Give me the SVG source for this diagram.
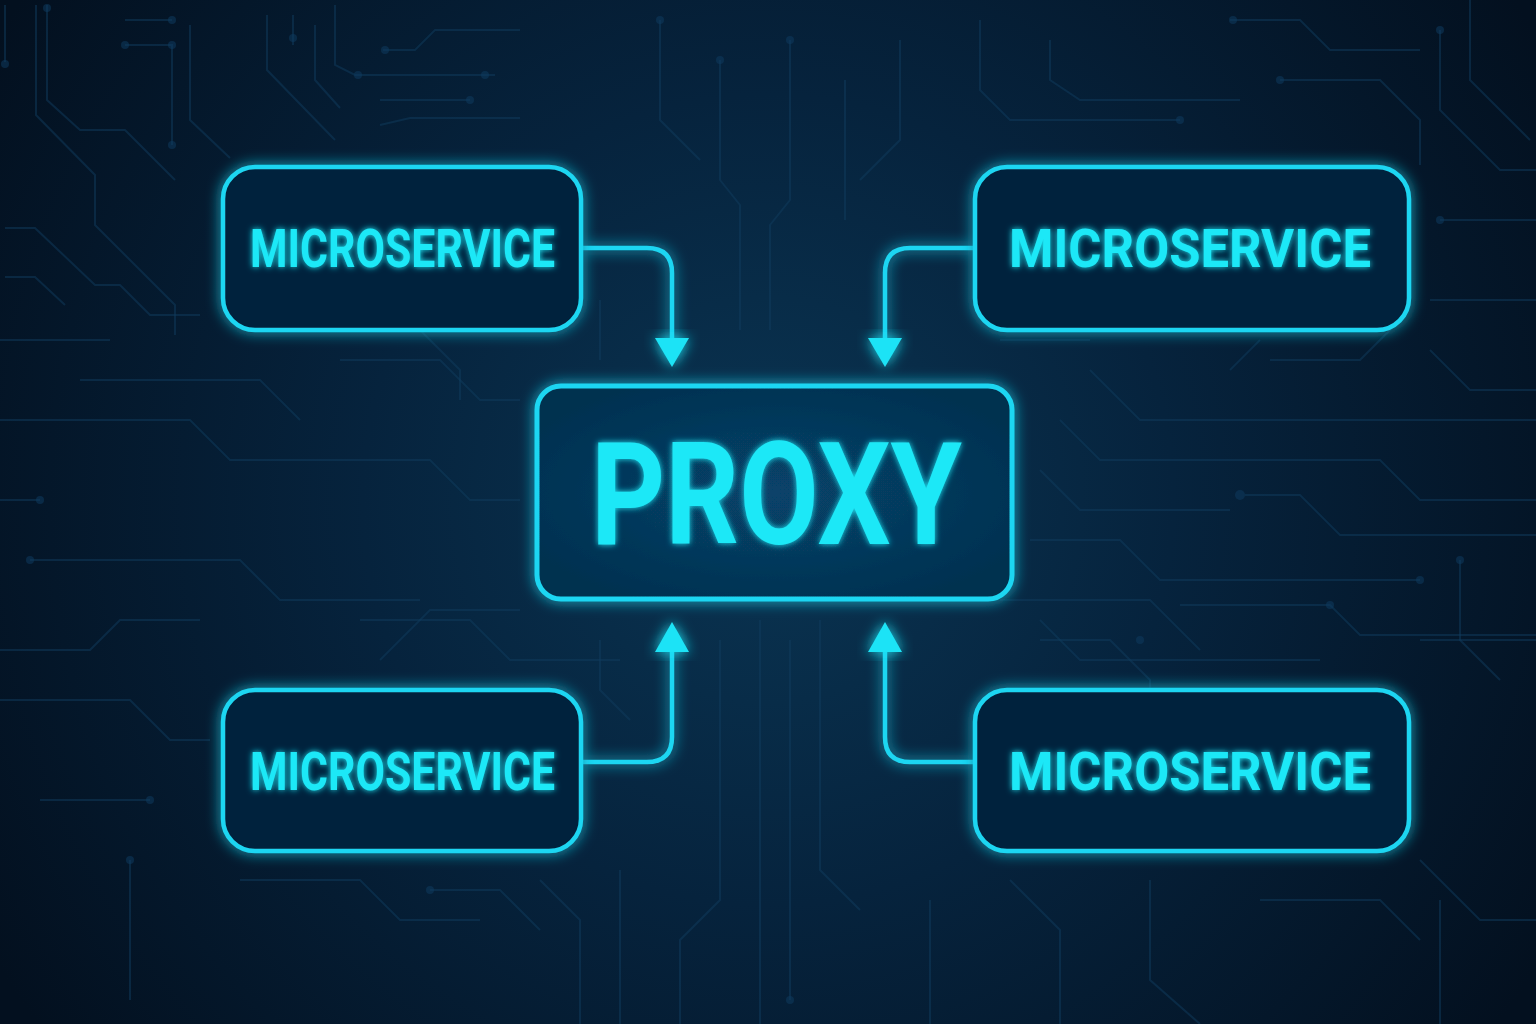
<svg xmlns="http://www.w3.org/2000/svg" width="1536" height="1024" viewBox="0 0 1536 1024">
<defs>
<radialGradient id="bg" cx="768" cy="500" r="900" gradientUnits="userSpaceOnUse">
<stop offset="0" stop-color="#0a3553"/>
<stop offset="0.45" stop-color="#06233d"/>
<stop offset="1" stop-color="#03101f"/>
</radialGradient>
<radialGradient id="pfill" cx="0.5" cy="0.5" r="0.6">
<stop offset="0" stop-color="#07436a"/>
<stop offset="1" stop-color="#05304f"/>
</radialGradient>
<filter id="glow" x="-30%" y="-30%" width="160%" height="160%">
<feGaussianBlur in="SourceGraphic" stdDeviation="7" result="b"/>
<feMerge><feMergeNode in="b"/><feMergeNode in="SourceGraphic"/></feMerge>
</filter>
<filter id="tglow" x="-20%" y="-40%" width="140%" height="180%">
<feGaussianBlur in="SourceGraphic" stdDeviation="3" result="b"/>
<feMerge><feMergeNode in="b"/><feMergeNode in="SourceGraphic"/></feMerge>
</filter>
<style>
.trace{fill:none;stroke:#0f3b5e;stroke-width:2;opacity:0.5}
.dot{fill:#0f3b5e;opacity:0.55}
.box{fill:#05233d;stroke:#1fd6f2;stroke-width:4.5}
.pbox{fill:url(#pfill);stroke:#1fd6f2;stroke-width:5}
.lbl{font-family:Roboto,"DejaVu Sans",sans-serif;font-weight:bold;fill:#1ee8f7;text-anchor:start}
.conn{fill:none;stroke:#1fd6f2;stroke-width:4.5}
.head{fill:#1fe3f6}
</style>
</defs>
<rect width="1536" height="1024" fill="url(#bg)"/>
<g id="circuits">
<path class="trace" d="M5,5 V62"/><circle class="dot" cx="5" cy="64" r="4"/>
<path class="trace" d="M36,5 V115 L95,175 V225 L175,305 V335"/>
<path class="trace" d="M47,5 V100 L80,130 H125 L175,180"/>
<circle class="dot" cx="47" cy="8" r="4"/>
<path class="trace" d="M125,20 H172"/><circle class="dot" cx="172" cy="20" r="4"/>
<path class="trace" d="M125,45 H172 V145"/><circle class="dot" cx="125" cy="45" r="4"/><circle class="dot" cx="172" cy="45" r="4"/><circle class="dot" cx="172" cy="145" r="4"/>
<path class="trace" d="M190,25 V120 L230,158"/>
<path class="trace" d="M5,228 H35 L95,285 H120 L150,315 H200"/>
<path class="trace" d="M5,277 H35 L65,305"/>
<path class="trace" d="M267,15 V70 L335,140"/>
<path class="trace" d="M315,25 V80 L340,108"/>
<path class="trace" d="M293,15 V45"/><circle class="dot" cx="293" cy="38" r="4"/>
<path class="trace" d="M335,5 V65 L355,75 H495"/><circle class="dot" cx="358" cy="75" r="4"/><circle class="dot" cx="485" cy="75" r="4"/>
<path class="trace" d="M383,50 H415 L435,30 H520"/><circle class="dot" cx="385" cy="50" r="4"/>
<path class="trace" d="M380,100 H470"/><circle class="dot" cx="470" cy="100" r="4"/>
<path class="trace" d="M380,125 L410,118 H520"/>
<path class="trace" d="M660,20 V120 L700,160"/><circle class="dot" cx="660" cy="20" r="4"/>
<path class="trace" d="M720,60 V180 L740,205 V330"/><circle class="dot" cx="720" cy="60" r="4"/>
<path class="trace" d="M790,40 V200 L770,225 V330"/><circle class="dot" cx="790" cy="40" r="4"/>
<path class="trace" d="M845,80 V220"/>
<path class="trace" d="M900,40 V140 L860,180"/>
<path class="trace" d="M980,20 V90 L1010,120 H1180"/><circle class="dot" cx="1180" cy="120" r="4"/>
<path class="trace" d="M1050,40 V80 L1080,100 H1240"/>
<path class="trace" d="M1230,20 H1300 L1330,50 H1420"/><circle class="dot" cx="1233" cy="20" r="4"/>
<path class="trace" d="M1280,80 H1380 L1420,120 V165"/><circle class="dot" cx="1280" cy="80" r="4"/>
<path class="trace" d="M1440,30 V110 L1500,170 H1536"/><circle class="dot" cx="1440" cy="30" r="4"/>
<path class="trace" d="M1470,0 V80 L1530,140"/>
<path class="trace" d="M1440,220 H1536"/><circle class="dot" cx="1440" cy="220" r="4"/>
<path class="trace" d="M1430,300 H1536"/>
<path class="trace" d="M1430,350 L1470,390 H1536"/>
<path class="trace" d="M1090,370 L1140,420 H1536"/>
<path class="trace" d="M1060,420 L1100,460 H1380 L1420,500 H1536"/>
<path class="trace" d="M1040,470 L1080,510 H1230"/><circle class="dot" cx="1240" cy="495" r="5"/>
<path class="trace" d="M1245,495 H1300 L1340,535 H1536"/>
<path class="trace" d="M1030,540 H1120 L1160,580 H1420"/><circle class="dot" cx="1420" cy="580" r="4"/>
<path class="trace" d="M1460,560 V640 L1500,680"/><circle class="dot" cx="1460" cy="560" r="4"/>
<path class="trace" d="M1040,620 L1080,660 H1320"/>
<path class="trace" d="M1180,605 H1330 L1360,635 H1536"/><circle class="dot" cx="1330" cy="605" r="4"/>
<path class="trace" d="M1420,640 H1536"/>
<path class="trace" d="M1420,860 L1480,920 H1536"/>
<path class="trace" d="M1440,900 V1024"/>
<path class="trace" d="M1000,600 H1150 L1200,650"/>
<path class="trace" d="M1040,640 H1110 L1150,680 V730"/><circle class="dot" cx="1140" cy="640" r="4"/>
<path class="trace" d="M930,900 V1024"/>
<path class="trace" d="M1010,880 L1060,930 V1024"/>
<path class="trace" d="M1150,880 V980 L1200,1024"/>
<path class="trace" d="M1260,900 H1380 L1420,940"/>
<path class="trace" d="M760,620 V1024"/>
<path class="trace" d="M790,640 V1000"/><circle class="dot" cx="790" cy="1000" r="4"/>
<path class="trace" d="M720,640 V900 L680,940 V1024"/>
<path class="trace" d="M820,620 V870 L860,910"/>
<path class="trace" d="M620,870 V1024"/>
<path class="trace" d="M540,880 L580,920 V1024"/>
<path class="trace" d="M430,890 H500 L540,930"/><circle class="dot" cx="430" cy="890" r="4"/>
<path class="trace" d="M240,880 H360 L400,920 H480"/>
<path class="trace" d="M130,860 V1000"/><circle class="dot" cx="130" cy="860" r="4"/>
<path class="trace" d="M40,800 H150"/><circle class="dot" cx="150" cy="800" r="4"/>
<path class="trace" d="M0,700 H130 L170,740 H210"/>
<path class="trace" d="M0,650 H90 L120,620 H200"/>
<path class="trace" d="M30,560 H240 L280,600 H420"/><circle class="dot" cx="30" cy="560" r="4"/>
<path class="trace" d="M0,500 H40"/><circle class="dot" cx="40" cy="500" r="4"/>
<path class="trace" d="M0,420 H190 L230,460 H430 L470,500 H520"/>
<path class="trace" d="M80,380 H260 L300,420"/>
<path class="trace" d="M0,340 H110"/>
<path class="trace" d="M340,360 H440 L480,400 H520"/>
<path class="trace" d="M420,330 L460,370 V400"/>
<path class="trace" d="M360,620 H470 L510,660 H620"/>
<path class="trace" d="M380,660 L430,610 H520"/>
<path class="trace" d="M600,640 V690 L630,720"/>
<path class="trace" d="M600,300 V360"/>
<path class="trace" d="M1000,340 H1090"/>
<path class="trace" d="M1270,360 H1360 L1400,320"/>
<path class="trace" d="M1230,370 L1260,340"/>
</g>
<g id="connectors">
<path class="conn" d="M582,248 H647 Q672,248 672,273 V345" filter="url(#glow)"/>
<path class="head" d="M655,338 L689,338 L672,367 Z" filter="url(#glow)"/>
<path class="conn" d="M975,248 H910 Q885,248 885,273 V345" filter="url(#glow)"/>
<path class="head" d="M868,338 L902,338 L885,367 Z" filter="url(#glow)"/>
<path class="conn" d="M582,762 H647 Q672,762 672,737 V645" filter="url(#glow)"/>
<path class="head" d="M655,652 L689,652 L672,622 Z" filter="url(#glow)"/>
<path class="conn" d="M975,762 H910 Q885,762 885,737 V645" filter="url(#glow)"/>
<path class="head" d="M868,652 L902,652 L885,622 Z" filter="url(#glow)"/>
</g>
<g id="ms-top-left">
<rect class="box" x="223" y="167" width="358" height="163" rx="32" filter="url(#glow)"/>
<text class="lbl" x="250" y="267" font-size="54" textLength="305" lengthAdjust="spacingAndGlyphs" filter="url(#tglow)">MICROSERVICE</text>
</g>
<g id="ms-top-right">
<rect class="box" x="975" y="167" width="434" height="163" rx="32" filter="url(#glow)"/>
<text class="lbl" x="1009" y="267" font-size="54" textLength="362" lengthAdjust="spacingAndGlyphs" filter="url(#tglow)">MICROSERVICE</text>
</g>
<g id="proxy">
<rect class="pbox" x="537" y="386" width="475" height="213" rx="24" filter="url(#glow)"/>
<text class="lbl" x="591" y="544" font-size="142" textLength="371" lengthAdjust="spacingAndGlyphs" filter="url(#tglow)">PROXY</text>
</g>
<g id="ms-bottom-left">
<rect class="box" x="223" y="690" width="358" height="161" rx="32" filter="url(#glow)"/>
<text class="lbl" x="250" y="790" font-size="54" textLength="305" lengthAdjust="spacingAndGlyphs" filter="url(#tglow)">MICROSERVICE</text>
</g>
<g id="ms-bottom-right">
<rect class="box" x="975" y="690" width="434" height="161" rx="32" filter="url(#glow)"/>
<text class="lbl" x="1009" y="790" font-size="54" textLength="362" lengthAdjust="spacingAndGlyphs" filter="url(#tglow)">MICROSERVICE</text>
</g>
</svg>
